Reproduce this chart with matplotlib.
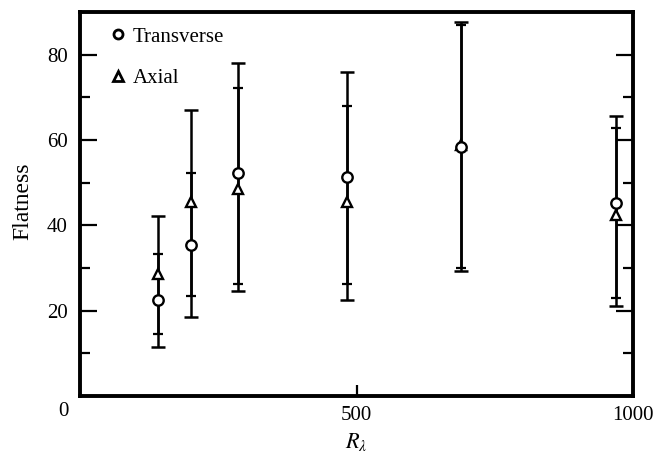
import matplotlib
matplotlib.use('Agg')
import matplotlib.pyplot as plt
from matplotlib.lines import Line2D
from matplotlib.ticker import MultipleLocator

plt.rcParams['font.family'] = ['Liberation Serif', 'DejaVu Serif']
plt.rcParams['mathtext.fontset'] = 'stix'

# Reynolds numbers
r_lambda = [141, 201, 286, 483, 689, 969]

# transverse flatness and its range
trans = [22.6, 35.3, 52.3, 51.4, 58.3, 45.2]
trans_lo = [11.5, 18.4, 24.5, 22.4, 29.2, 21.0]
trans_hi = [42.3, 67.1, 78.1, 76.0, 87.7, 65.7]

# axial flatness and its range
axial = [28.7, 45.5, 48.6, 45.5, 58.9, 42.4]
axial_lo = [14.5, 23.4, 26.3, 26.3, 30.0, 23.0]
axial_hi = [33.3, 52.3, 72.1, 68.0, 86.9, 62.9]

W, H = 653, 458
fig = plt.figure(figsize=(W / 100, H / 100), dpi=100)
ax = fig.add_axes([80 / W, 1 - 396 / H, 553 / W, 384 / H])

err_t = [[v - lo for v, lo in zip(trans, trans_lo)], [hi - v for v, hi in zip(trans, trans_hi)]]
err_a = [[v - lo for v, lo in zip(axial, axial_lo)], [hi - v for v, hi in zip(axial, axial_hi)]]

ax.errorbar(r_lambda, trans, yerr=err_t, fmt='none', ecolor='black', elinewidth=1.8,
            capsize=5, capthick=1.8, zorder=2)
ax.errorbar(r_lambda, axial, yerr=err_a, fmt='none', ecolor='black', elinewidth=1.8,
            capsize=3.5, capthick=1.6, zorder=2)
ax.plot(r_lambda, axial, linestyle='none', marker='^', markersize=7.5, markerfacecolor='white',
        markeredgecolor='black', markeredgewidth=1.7, zorder=3)
ax.plot(r_lambda, trans, linestyle='none', marker='o', markersize=7.5, markerfacecolor='white',
        markeredgecolor='black', markeredgewidth=1.7, zorder=4)

ax.set_xlim(0, 1000)
ax.set_ylim(0, 90)
ax.set_xticks([0, 500, 1000])
ax.set_xticklabels(['', '500', '1000'])
ax.set_yticks([0, 20, 40, 60, 80])
ax.set_yticklabels(['', '20', '40', '60', '80'])
ax.yaxis.set_minor_locator(MultipleLocator(10))
ax.tick_params(axis='both', which='major', direction='in', length=12, width=1.6,
               labelsize=15, right=True)
ax.tick_params(axis='y', which='major', pad=9)
ax.tick_params(axis='x', which='major', length=8, pad=7)
ax.tick_params(axis='y', which='minor', direction='in', length=7, width=1.6, right=True)
for s in ax.spines.values():
    s.set_linewidth(2.8)

# shared corner label
fig.text(63 / W, 1 - 412 / H, '0', ha='center', va='center', fontsize=15)

ax.set_ylabel('Flatness', fontsize=17)
ax.yaxis.set_label_coords((33 - 80) / 553, (396 - 201) / 384)
ax.set_xlabel(r'$R_\lambda$', fontsize=16)
ax.xaxis.set_label_coords((356 - 80) / 553, (396 - 431) / 384)

handles = [
    Line2D([], [], linestyle='none', marker='o', markersize=6.5, markerfacecolor='white',
           markeredgecolor='black', markeredgewidth=2),
    Line2D([], [], linestyle='none', marker='^', markersize=6.5, markerfacecolor='white',
           markeredgecolor='black', markeredgewidth=2),
]
ax.legend(handles, ['Transverse', 'Axial'], loc='upper left', frameon=False, fontsize=15,
          handlelength=0.6, handletextpad=0.4, labelspacing=1.05, borderpad=0,
          borderaxespad=0, bbox_to_anchor=((112 - 80) / 553, (396 - 27) / 384))

fig.savefig('out.png', dpi=100)
